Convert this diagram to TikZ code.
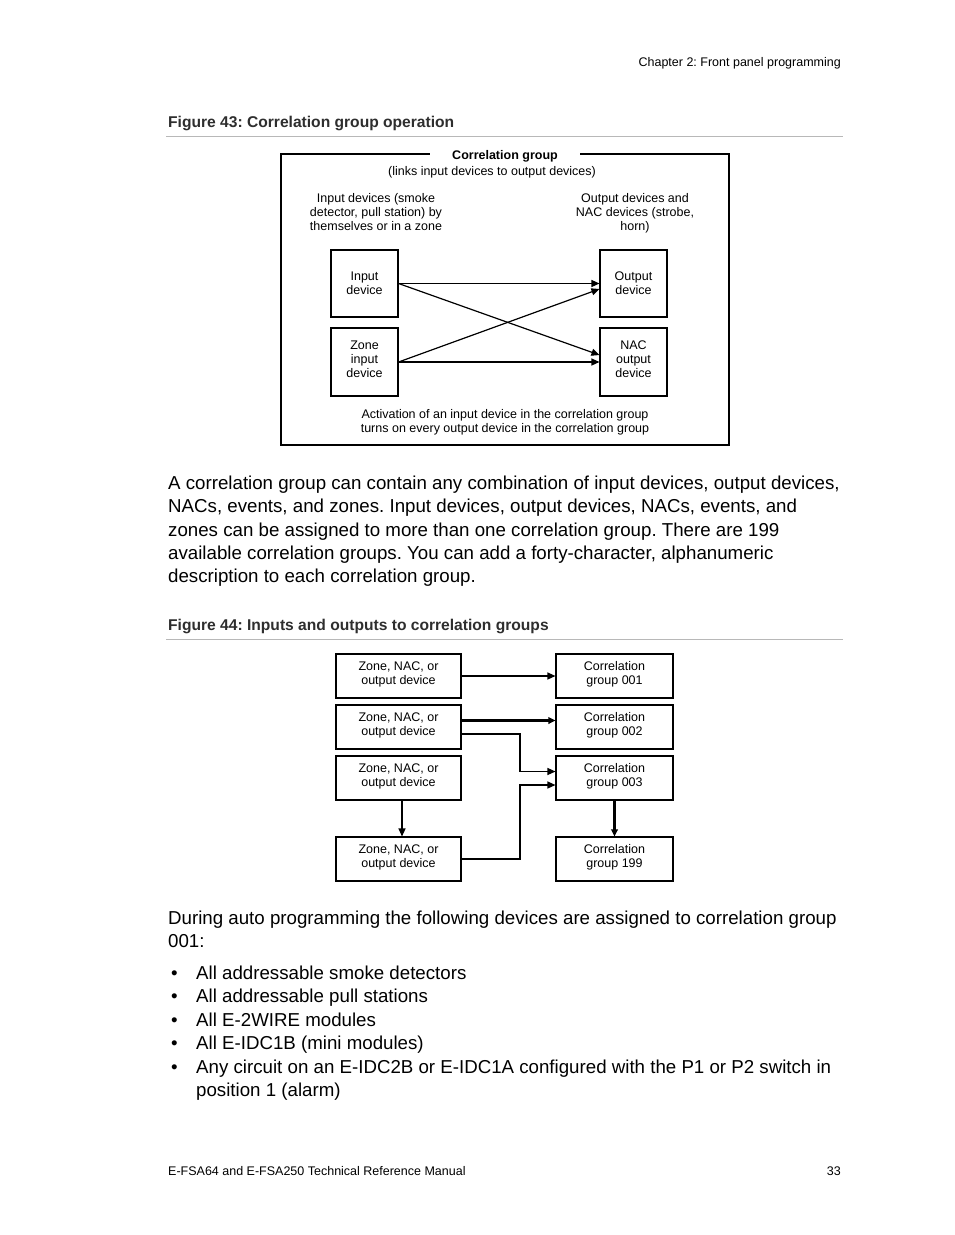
\documentclass[tikz,border=0pt]{standalone}
\usepackage{fontspec}
\setmainfont{Liberation Sans}
\usetikzlibrary{arrows.meta}
\frenchspacing
\begin{document}
\begin{tikzpicture}[x=1pt,y=-1pt,
  small/.style={font=\fontsize{12.5}{14}\selectfont, align=center, inner sep=0pt},
  smallb/.style={small, anchor=base},
  body/.style={font=\fontsize{18.7}{23.3}\selectfont, anchor=base west, inner sep=0pt},
  bul/.style={font=\fontsize{18.7}{23.3}\selectfont, anchor=base west, inner sep=0pt},
  capt/.style={font=\fontsize{15.6}{18}\bfseries\selectfont, text=black!82, anchor=base west, inner sep=0pt},
  rule/.style={draw=black!28, line width=1pt},
  frame/.style={draw, line width=1.1pt},
  devbox/.style={draw, line width=1.1pt, small, minimum width=67pt, minimum height=67pt},
  grpbox/.style={draw, line width=1.1pt, minimum height=44pt, inner sep=0pt},
  arr/.style={line width=1.2pt, -{Triangle[length=8pt,width=7pt]}},
  tharr/.style={line width=2.2pt, -{Triangle[length=7pt,width=6.5pt]}},
]
\useasboundingbox[fill=white] (0,0) rectangle (954,1235);

% header and footer
\node[small, anchor=base east] (hdr) at (841,66.5) {Chapter 2: Front panel programming};
\node[small, anchor=base west] (ftl) at (168,1175) {E-FSA64 and E-FSA250 Technical Reference Manual};
\node[small, anchor=base east] (ftr) at (841,1175) {33};

% Figure 43
\node[capt] (cap43) at (168,127) {Figure 43: Correlation group operation};
\draw[rule] (166,136.5) -- (843,136.5);

\draw[frame] (281,154) rectangle (729,445);
\node[smallb, font=\fontsize{12.5}{14}\bfseries\selectfont, fill=white, inner xsep=22pt, inner ysep=1pt] (cgt) at (505,159.5) {Correlation group};
\node[smallb] (cgs) at (492,175.5) {(links input devices to output devices)};
\node[small, anchor=north] (indesc) at (376,193.5) {Input devices (smoke\\detector, pull station) by\\themselves or in a zone};
\node[small, anchor=north] (outdesc) at (635,193.5) {Output devices and\\NAC devices (strobe,\\horn)};

\node[devbox] (inp) at (364.5,283.5) {Input\\device};
\node[devbox] (outp) at (633.5,283.5) {Output\\device};
\node[devbox, minimum height=68pt] (zone) at (364.5,362) {};
\node[small] (zonet) at ([yshift=3pt]zone.center) {Zone\\input\\device};
\node[devbox, minimum height=68pt] (nac) at (633.5,362) {};
\node[small] (nact) at ([yshift=3pt]nac.center) {NAC\\output\\device};

\draw[arr] (inp.east) -- (outp.west);
\draw[arr] (inp.east) -- ([yshift=7pt]nac.west);
\draw[arr] (zone.east) -- ([yshift=-5.5pt]outp.west);
\draw[arr] (zone.east) -- (nac.west);

\node[small, anchor=north] (act) at (505,409.5) {Activation of an input device in the correlation group\\turns on every output device in the correlation group};

% Body paragraph 1
\node[body] (p1a) at (168,489.5) {A correlation group can contain any combination of input devices, output devices,};
\node[body] (p1b) at (168,512.8) {NACs, events, and zones. Input devices, output devices, NACs, events, and};
\node[body] (p1c) at (168,536.1) {zones can be assigned to more than one correlation group. There are 199};
\node[body] (p1d) at (168,559.4) {available correlation groups. You can add a forty-character, alphanumeric};
\node[body] (p1e) at (168,582.7) {description to each correlation group.};

% Figure 44
\node[capt] (cap44) at (168,630) {Figure 44: Inputs and outputs to correlation groups};
\draw[rule] (166,639.5) -- (843,639.5);

\foreach \n/\y in {l1/676, l2/727, l3/778, l4/859} {
  \node[grpbox, minimum width=125pt] (\n) at (398.5,\y) {};
  \draw[line width=1.8pt] (\n.south west) -- (\n.south east);
  \node[small] (\n t) at ([yshift=1.5pt]\n.center) {Zone, NAC, or\\output device};
}
\foreach \n/\y/\g in {r1/676/001, r2/727/002, r3/778/003, r4/859/199} {
  \node[grpbox, minimum width=117pt] (\n) at (614.5,\y) {};
  \draw[line width=1.8pt] (\n.south west) -- (\n.south east);
  \node[small] (\n t) at ([yshift=1.5pt]\n.center) {Correlation\\group \g};
}

\draw[arr] (l1.east) -- (r1.west);
\draw[tharr] ([yshift=6.5pt]l2.east) -- ([yshift=6.5pt]r2.west);
\draw[arr] ([yshift=-7pt]l2.east) -- ++(58.5,0) |- ([yshift=6.5pt]r3.west);
\draw[arr] (l4.east) -- ++(58.5,0) |- ([yshift=-7pt]r3.west);
\draw[arr] ([xshift=3.5pt]l3.south) -- ([xshift=3.5pt]l4.north);
\draw[tharr] (r3.south) -- (r4.north);

% Body paragraph 2
\node[body] (p2a) at (168,924) {During auto programming the following devices are assigned to correlation group};
\node[body] (p2b) at (168,947.3) {001:};

\foreach \t/\y [count=\i] in {{All addressable smoke detectors}/979,
  {All addressable pull stations}/1002.5,
  {All E-2WIRE modules}/1026,
  {All E-IDC1B (mini modules)}/1049.5,
  {Any circuit on an E-IDC2B or E-IDC1A configured with the P1 or P2 switch in}/1073} {
  \node[bul] (b\i) at (171,\y) {•};
  \node[body] (bt\i) at (196,\y) {\t};
}
\node[body] (bt6) at (196,1096.5) {position 1 (alarm)};
\end{tikzpicture}
\end{document}
